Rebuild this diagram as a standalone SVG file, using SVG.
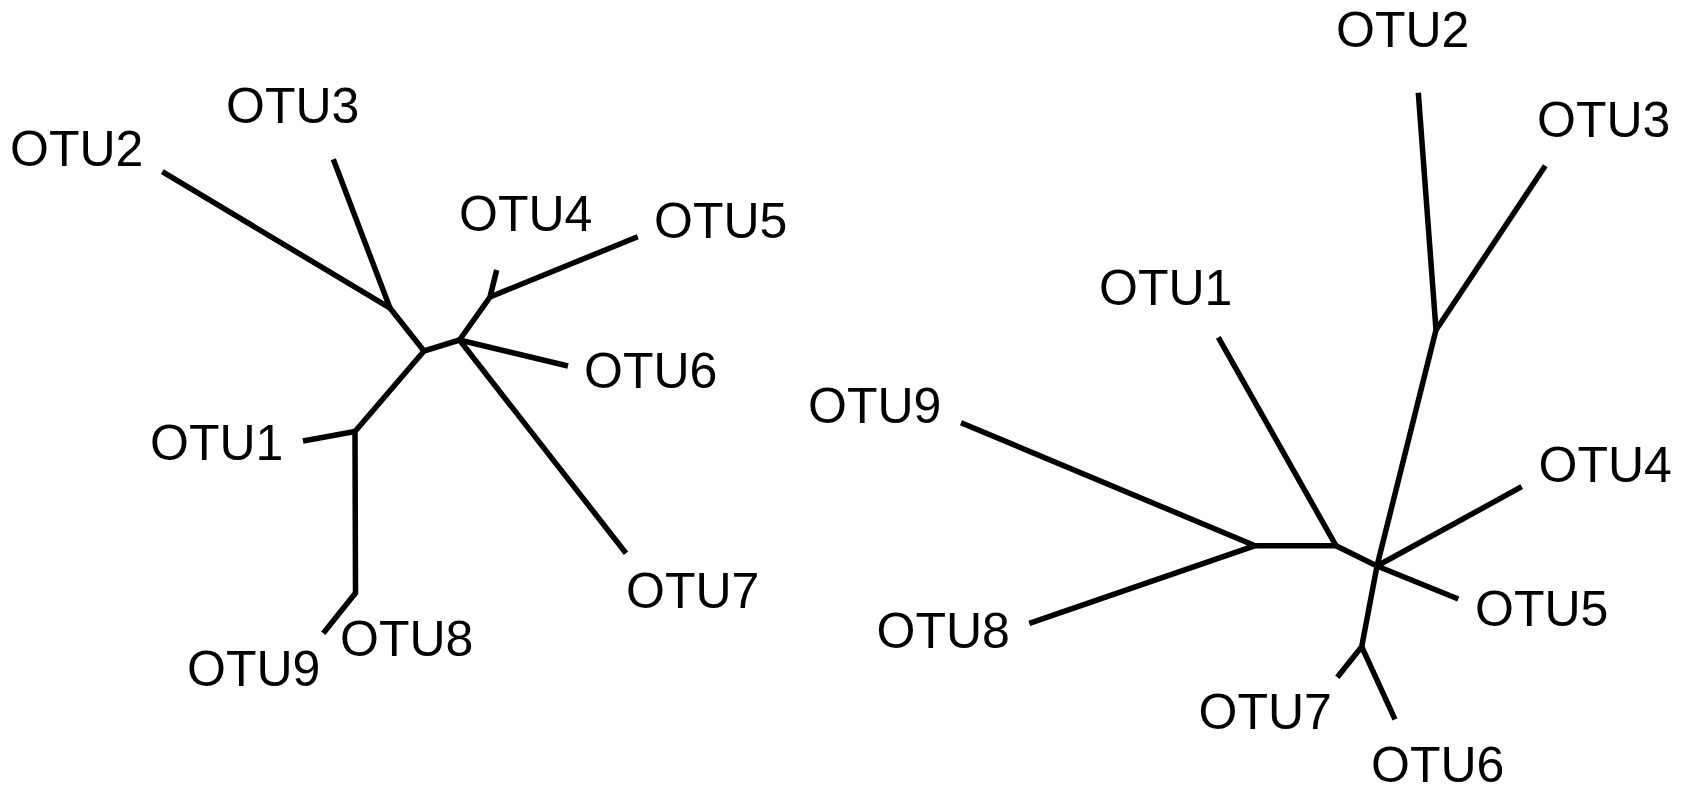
<svg xmlns="http://www.w3.org/2000/svg" width="1689" height="793" viewBox="0 0 1689 793">
  <style>
    .edge { fill: none; stroke: #000; stroke-width: 5.5; stroke-linecap: butt; stroke-linejoin: miter; }
    .lbl { font-family: "Liberation Sans", Arial, sans-serif; font-size: 50px; fill: #000; }
  </style>
  <rect width="1689" height="793" fill="#fff"/>

  <!-- Unrooted tree (left) -->
  <g id="tree-left-edges">
    <polyline class="edge" points="162.3,171.7 390,308 333.3,159.3"/>
    <polyline class="edge" points="390,308 424,351 459.5,340"/>
    <polyline class="edge" points="459.5,340 490,297 496.7,270"/>
    <line class="edge" x1="490" y1="297" x2="637.7" y2="236.7"/>
    <line class="edge" x1="459.5" y1="340" x2="568" y2="366"/>
    <line class="edge" x1="459.5" y1="340" x2="626" y2="553.3"/>
    <polyline class="edge" points="424,351 355,431.5 355.5,593 323.3,633.3"/>
    <line class="edge" x1="355" y1="431.5" x2="303" y2="441"/>
  </g>
  <g id="L-OTU1"><text class="lbl" x="150" y="460">OTU1</text></g>
  <g id="L-OTU2"><text class="lbl" x="10" y="166">OTU2</text></g>
  <g id="L-OTU3"><text class="lbl" x="226" y="122.7">OTU3</text></g>
  <g id="L-OTU4"><text class="lbl" x="459" y="230.7">OTU4</text></g>
  <g id="L-OTU5"><text class="lbl" x="654" y="238.3">OTU5</text></g>
  <g id="L-OTU6"><text class="lbl" x="584" y="388.3">OTU6</text></g>
  <g id="L-OTU7"><text class="lbl" x="626" y="607.5">OTU7</text></g>
  <g id="L-OTU8"><text class="lbl" x="340" y="656">OTU8</text></g>
  <g id="L-OTU9"><text class="lbl" x="187" y="686">OTU9</text></g>

  <!-- Unrooted tree (right) -->
  <g id="tree-right-edges">
    <polyline class="edge" points="961,422.7 1255,545.7 1029.3,623.3"/>
    <polyline class="edge" points="1255,545.7 1336,545.7 1218.3,337.3"/>
    <polyline class="edge" points="1336,545.7 1377,566 1436,330 1418.3,92.7"/>
    <line class="edge" x1="1436" y1="330" x2="1545.3" y2="165.7"/>
    <line class="edge" x1="1377" y1="566" x2="1521.7" y2="486.7"/>
    <line class="edge" x1="1377" y1="566" x2="1458.3" y2="599"/>
    <polyline class="edge" points="1377,566 1361.7,646.7 1337.3,677.3"/>
    <line class="edge" x1="1361.7" y1="646.7" x2="1395" y2="719.3"/>
  </g>
  <g id="R-OTU1"><text class="lbl" x="1099" y="305">OTU1</text></g>
  <g id="R-OTU2"><text class="lbl" x="1336" y="46.7">OTU2</text></g>
  <g id="R-OTU3"><text class="lbl" x="1537" y="136.7">OTU3</text></g>
  <g id="R-OTU4"><text class="lbl" x="1538.5" y="481.7">OTU4</text></g>
  <g id="R-OTU5"><text class="lbl" x="1475" y="625.7">OTU5</text></g>
  <g id="R-OTU6"><text class="lbl" x="1371" y="782.3">OTU6</text></g>
  <g id="R-OTU7"><text class="lbl" x="1198.5" y="729.3">OTU7</text></g>
  <g id="R-OTU8"><text class="lbl" x="876.5" y="648.3">OTU8</text></g>
  <g id="R-OTU9"><text class="lbl" x="808" y="423.3">OTU9</text></g>
</svg>
